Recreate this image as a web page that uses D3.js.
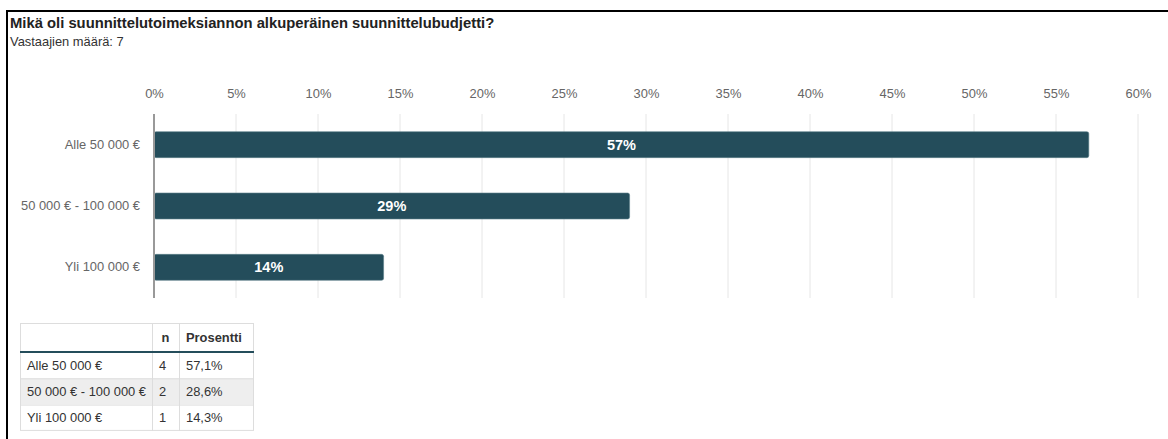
<!DOCTYPE html>
<html>
<head>
<meta charset="utf-8">
<script src="https://cdn.jsdelivr.net/npm/d3@7"></script>
<style>
  html, body { margin: 0; padding: 0; background: #fff; }
  svg { display: block; font-family: "Liberation Sans", Arial, sans-serif; }
</style>
</head>
<body>
<svg id="chart" width="1168" height="439"></svg>
<script>
// Survey answers: planning budget categories
const categories = ["Alle 50 000 €", "50 000 € - 100 000 €", "Yli 100 000 €"];
const percentValues = [57, 29, 14];            // rounded share shown on bars
const counts = [4, 2, 1];                      // n per category
const shareLabels = ["57,1%", "28,6%", "14,3%"];
const tickValues = [0, 5, 10, 15, 20, 25, 30, 35, 40, 45, 50, 55, 60];
const title = "Mikä oli suunnittelutoimeksiannon alkuperäinen suunnittelubudjetti?";
const subtitle = "Vastaajien määrä: 7";

const svg = d3.select("#chart");
const barColor = "#244d5b";
const fontFamily = "Liberation Sans, Arial, sans-serif";

// Frame (top and left edges)
svg.append("line").attr("x1", 6).attr("x2", 1168).attr("y1", 11).attr("y2", 11)
  .attr("stroke", "#000").attr("stroke-width", 2);
svg.append("line").attr("x1", 7).attr("x2", 7).attr("y1", 10).attr("y2", 439)
  .attr("stroke", "#000").attr("stroke-width", 2);

// Heading
svg.append("text").attr("x", 10).attr("y", 28)
  .attr("font-size", 14.8).attr("font-weight", "bold").attr("fill", "#222").text(title);
svg.append("text").attr("x", 10).attr("y", 46)
  .attr("font-size", 12.9).attr("fill", "#333").text(subtitle);

// Scales
const x = d3.scaleLinear().domain([0, 60]).range([154, 1138]);
const y = d3.scaleBand().domain(categories).range([114, 298])
  .paddingInner(0.577).paddingOuter(0.2885);

// Grid lines
svg.append("g").selectAll("line").data(tickValues.filter(d => d > 0)).join("line")
  .attr("x1", d => x(d)).attr("x2", d => x(d))
  .attr("y1", 114).attr("y2", 298)
  .attr("stroke", "#e6e6e6").attr("stroke-width", 1);

// Top axis labels
const xAxis = svg.append("g").attr("transform", "translate(0,98)")
  .call(d3.axisTop(x).tickValues(tickValues).tickFormat(d => d + "%").tickSize(0).tickPadding(0));
xAxis.select(".domain").remove();
xAxis.selectAll("text").attr("font-size", 12.9).attr("fill", "#666")
  .attr("font-family", fontFamily);

// Bars
svg.append("g").selectAll("rect").data(categories).join("rect")
  .attr("x", x(0))
  .attr("y", d => y(d))
  .attr("width", (d, i) => x(percentValues[i]) - x(0))
  .attr("height", y.bandwidth())
  .attr("rx", 2).attr("ry", 2)
  .attr("fill", barColor)
  .attr("stroke", "#5d7f8a").attr("stroke-width", 0.6);

// Value labels centred on bars
svg.append("g").selectAll("text").data(categories).join("text")
  .attr("x", (d, i) => (x(0) + x(percentValues[i])) / 2)
  .attr("y", d => y(d) + y.bandwidth() / 2)
  .attr("dy", "0.35em")
  .attr("text-anchor", "middle")
  .attr("font-size", 14.5).attr("font-weight", "bold").attr("fill", "#fff")
  .text((d, i) => percentValues[i] + "%");

// Category axis
const yAxis = svg.append("g").attr("transform", `translate(${x(0)},0)`)
  .call(d3.axisLeft(y).tickSize(0).tickPadding(14));
yAxis.select(".domain").remove();
yAxis.selectAll("text").attr("font-size", 12.9).attr("fill", "#666")
  .attr("font-family", fontFamily);
svg.append("line").attr("x1", x(0)).attr("x2", x(0)).attr("y1", 114).attr("y2", 298)
  .attr("stroke", "#999").attr("stroke-width", 2);

// Summary table
const tbl = svg.append("g");
const colX = [20, 152, 179, 254];
const headerTop = 323, headerBottom = 352, rowH = 26.3;
const rowTop = i => headerBottom + i * rowH;
const tableBottom = rowTop(categories.length);

// Striped middle row
tbl.selectAll("rect.stripe").data(categories).join("rect")
  .attr("class", "stripe")
  .attr("x", colX[0]).attr("y", (d, i) => rowTop(i))
  .attr("width", colX[3] - colX[0]).attr("height", rowH)
  .attr("fill", (d, i) => i % 2 === 1 ? "#eeeeee" : "#fff");

// Cell borders
const border = "#dddddd";
tbl.append("rect").attr("x", colX[0] + 0.5).attr("y", headerTop + 0.5)
  .attr("width", colX[3] - colX[0] - 1).attr("height", tableBottom - headerTop - 1)
  .attr("fill", "none").attr("stroke", border);
tbl.selectAll("line.col").data([colX[1], colX[2]]).join("line")
  .attr("class", "col")
  .attr("x1", d => d + 0.5).attr("x2", d => d + 0.5)
  .attr("y1", headerTop).attr("y2", tableBottom).attr("stroke", border);
tbl.selectAll("line.row").data(categories.slice(1)).join("line")
  .attr("class", "row")
  .attr("x1", colX[0]).attr("x2", colX[3])
  .attr("y1", (d, i) => rowTop(i + 1) + 0.5).attr("y2", (d, i) => rowTop(i + 1) + 0.5)
  .attr("stroke", border);
tbl.append("line").attr("x1", colX[0]).attr("x2", colX[3])
  .attr("y1", headerBottom).attr("y2", headerBottom)
  .attr("stroke", barColor).attr("stroke-width", 2);

// Header text
tbl.append("text").attr("x", (colX[1] + colX[2]) / 2).attr("y", 342)
  .attr("text-anchor", "middle").attr("font-size", 12.9).attr("font-weight", "bold")
  .attr("fill", "#333").text("n");
tbl.append("text").attr("x", colX[2] + 7).attr("y", 342)
  .attr("font-size", 12.9).attr("font-weight", "bold").attr("fill", "#333").text("Prosentti");

// Row text
const rows = tbl.selectAll("g.r").data(categories).join("g").attr("class", "r")
  .attr("transform", (d, i) => `translate(0,${rowTop(i) + rowH / 2})`);
rows.append("text").attr("x", colX[0] + 7).attr("dy", "0.35em")
  .attr("font-size", 12.9).attr("fill", "#333").text(d => d);
rows.append("text").attr("x", colX[1] + 7).attr("dy", "0.35em")
  .attr("font-size", 12.9).attr("fill", "#333").text((d, i) => counts[i]);
rows.append("text").attr("x", colX[2] + 7).attr("dy", "0.35em")
  .attr("font-size", 12.9).attr("fill", "#333").text((d, i) => shareLabels[i]);
</script>
</body>
</html>
